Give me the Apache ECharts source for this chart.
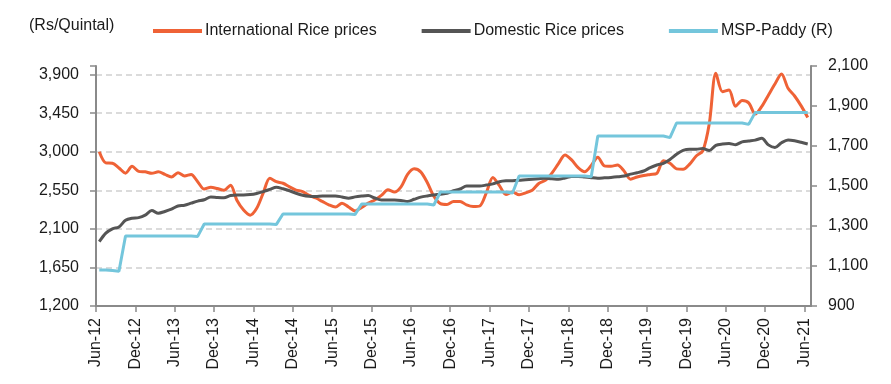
<!DOCTYPE html>
<html>
<head>
<meta charset="utf-8">
<script src="https://cdn.jsdelivr.net/npm/echarts@6/dist/echarts.min.js"></script>
<style>
html,body{margin:0;padding:0;background:#fff;}
#chart{width:891px;height:384px;}
</style>
</head>
<body>
<div id="chart"></div>
<script>
// Monthly data, Jun-12 .. Jun-21 (109 months)
const tickLabels = ['Jun-12','Dec-12','Jun-13','Dec-13','Jun-14','Dec-14','Jun-15','Dec-15','Jun-16','Dec-16',
  'Jun-17','Dec-17','Jun-18','Dec-18','Jun-19','Dec-19','Jun-20','Dec-20','Jun-21'];

const internationalPrices = [
  3000,2870,2865,2810,2750,2830,2771,2765,2748,2765,2735,2705,
  2755,2718,2735,2650,2565,2585,2570,2550,2610,2430,2320,2260,
  2340,2520,2690,2650,2632,2590,2552,2535,2490,2460,2420,2380,
  2355,2400,2355,2309,2350,2400,2437,2490,2555,2530,2590,2735,
  2800,2765,2640,2480,2395,2385,2420,2420,2379,2360,2367,2520,
  2700,2605,2500,2530,2498,2520,2550,2630,2665,2750,2860,2962,
  2905,2815,2767,2840,2935,2835,2830,2845,2775,2680,2705,2722,
  2735,2748,2895,2865,2800,2795,2855,2950,3010,3330,3916,3700,
  3720,3530,3598,3570,3440,3530,3660,3790,3907,3740,3650,3535,
  3400
];

const domesticPrices = [
  1950,2050,2100,2122,2200,2224,2231,2260,2313,2282,2303,2330,
  2367,2376,2400,2424,2440,2473,2466,2462,2490,2495,2495,2500,
  2513,2534,2560,2585,2568,2545,2515,2492,2480,2478,2484,2484,
  2484,2472,2457,2473,2482,2488,2460,2437,2437,2437,2432,2420,
  2445,2470,2484,2495,2505,2515,2545,2565,2600,2600,2600,2611,
  2625,2650,2660,2662,2667,2674,2680,2685,2689,2685,2679,2693,
  2712,2712,2705,2697,2691,2695,2700,2707,2716,2738,2755,2775,
  2815,2845,2865,2910,2970,3015,3029,3029,3037,3015,3075,3090,
  3095,3082,3115,3125,3135,3157,3080,3050,3105,3137,3128,3110,
  3090
];

const mspPaddy = [
  1080,1080,1078,1074,1250,1250,1250,1250,1250,1250,1250,1250,
  1250,1250,1250,1248,1310,1310,1310,1310,1310,1310,1310,1310,
  1310,1310,1310,1308,1360,1360,1360,1360,1360,1360,1360,1360,
  1360,1360,1360,1358,1410,1410,1410,1410,1410,1410,1410,1410,
  1410,1410,1410,1405,1470,1470,1470,1470,1470,1470,1470,1470,
  1470,1470,1470,1465,1550,1550,1550,1550,1550,1550,1550,1550,
  1550,1550,1550,1546,1750,1750,1750,1750,1750,1750,1750,1750,
  1750,1750,1750,1742,1815,1815,1815,1815,1815,1815,1815,1815,
  1815,1815,1815,1808,1868,1868,1868,1868,1868,1868,1868,1868,
  1868
];

const monthNames = ['Jan','Feb','Mar','Apr','May','Jun','Jul','Aug','Sep','Oct','Nov','Dec'];
function monthLabel(k){ // k months after Jun-12
  const m = (5 + k) % 12;
  const y = 12 + Math.floor((5 + k) / 12);
  return monthNames[m] + '-' + y;
}
const dataMonths = internationalPrices.map((_, k) => monthLabel(k));
const boundaryMonths = dataMonths.concat([monthLabel(dataMonths.length)]);

const FONT = "'Liberation Sans', Arial, sans-serif";
const TXT = '#1a1a1a';
const AX = '#8a8a8a';

const chart = echarts.init(document.getElementById('chart'), null, {renderer: 'canvas'});
chart.setOption({
  animation: false,
  backgroundColor: '#ffffff',
  textStyle: {fontFamily: FONT},
  title: {
    text: '(Rs/Quintal)', left: 24, top: 13,
    textStyle: {fontFamily: FONT, fontSize: 16, fontWeight: 'normal', color: TXT}
  },
  legend: {
    left: 148, top: 18, itemWidth: 49, itemHeight: 4, itemGap: 45, icon: 'rect',
    textStyle: {fontFamily: FONT, fontSize: 16, color: TXT, padding: [0,0,0,-2]},
    data: ['International Rice prices', 'Domestic Rice prices', 'MSP-Paddy (R)']
  },
  grid: {left: 96, right: 80, top: 66, bottom: 78, containLabel: false},
  xAxis: [
    {
      type: 'category', data: boundaryMonths, boundaryGap: false, position: 'bottom',
      axisLine: {show: true, onZero: false, lineStyle: {color: AX, width: 2}},
      axisTick: {show: true, interval: 5, length: 6, lineStyle: {color: AX, width: 1.5}},
      axisLabel: {
        interval: 5, rotate: 90, margin: 12, fontFamily: FONT, fontSize: 16, color: TXT,
        formatter: (v, i) => (i % 6 === 0 ? tickLabels[i / 6] : '')
      },
      splitLine: {show: false}
    },
    {
      type: 'category', data: dataMonths, boundaryGap: true, position: 'bottom', show: false
    }
  ],
  yAxis: [
    {
      type: 'value', min: 1200, max: 4000, interval: 450, position: 'left',
      axisLine: {show: true, lineStyle: {color: AX, width: 2}},
      axisTick: {show: true, length: 6, lineStyle: {color: AX, width: 1.5}},
      axisLabel: {
        margin: 17, fontFamily: FONT, fontSize: 16, color: TXT,
        formatter: v => ((v - 1200) % 450 === 0 ? echarts.format.addCommas(v) : '')
      },
      splitLine: {show: true, showMaxLine: false, showMinLine: false,
        lineStyle: {color: '#cfcfcf', type: [6, 4], width: 1.5}}
    },
    {
      type: 'value', min: 900, max: 2100, interval: 200, position: 'right',
      axisLine: {show: true, lineStyle: {color: AX, width: 2}},
      axisTick: {show: true, length: 6, lineStyle: {color: AX, width: 1.5}},
      axisLabel: {margin: 17, fontFamily: FONT, fontSize: 16, color: TXT,
        formatter: v => echarts.format.addCommas(v)},
      splitLine: {show: false}
    }
  ],
  series: [
    {
      name: 'International Rice prices', type: 'line', xAxisIndex: 1, yAxisIndex: 0,
      data: internationalPrices, showSymbol: false, smooth: 0.3,
      lineStyle: {color: '#EF6236', width: 3}, itemStyle: {color: '#EF6236'}
    },
    {
      name: 'Domestic Rice prices', type: 'line', xAxisIndex: 1, yAxisIndex: 0,
      data: domesticPrices, showSymbol: false, smooth: 0.3,
      lineStyle: {color: '#555555', width: 3}, itemStyle: {color: '#555555'}
    },
    {
      name: 'MSP-Paddy (R)', type: 'line', xAxisIndex: 1, yAxisIndex: 1,
      data: mspPaddy, showSymbol: false, smooth: false,
      lineStyle: {color: '#74C6DC', width: 3}, itemStyle: {color: '#74C6DC'}
    }
  ]
});
</script>
</body>
</html>
